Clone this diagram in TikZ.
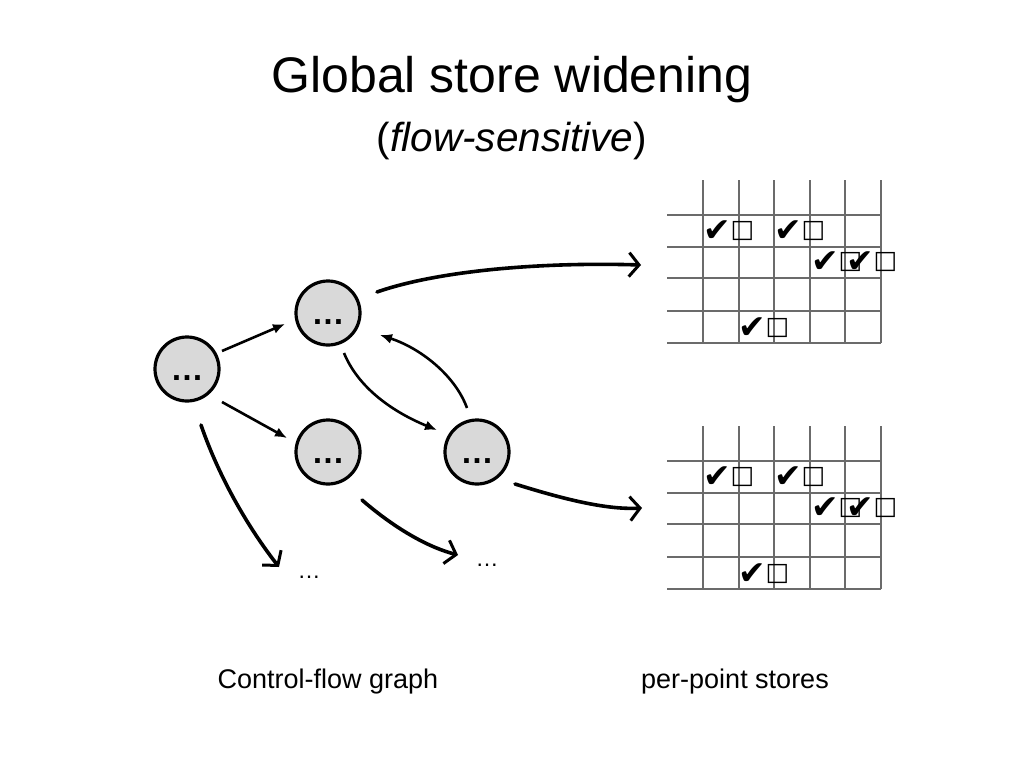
\documentclass[tikz,border=0pt]{standalone}
\usepackage{fontspec}
\setmainfont{Liberation Sans}
\newfontfamily\symfont{DejaVu Sans}
\usetikzlibrary{arrows.meta}
\begin{document}
\begin{tikzpicture}[x=1pt,y=-1pt,
  cfgnode/.style={circle, draw=black, line width=3.2pt, fill=black!15, minimum size=64pt, inner sep=0pt, text height=22pt, text depth=0pt, font=\fontsize{33}{36}\selectfont\bfseries},
  flow/.style={line width=2.6pt, -{Latex[length=12pt,width=10pt]}},
  sketch/.style={line width=3.6pt, line cap=round, -{Straight Barb[length=10pt,width=24pt,line width=3pt]}},
  gridline/.style={draw=black!58, line width=2.5pt},
  chk/.style={font=\symfont\fontsize{33}{33}\selectfont, inner sep=0pt},
  bx/.style={font=\symfont\fontsize{25}{25}\selectfont, inner sep=0pt},
  lbl/.style={font=\fontsize{27}{30}\selectfont, anchor=base},
  dots/.style={font=\fontsize{23}{26}\selectfont, anchor=base}
]
\useasboundingbox (0,0) rectangle (1024,768);

% title
\node[anchor=base, font=\fontsize{50}{58}\selectfont] (title) at (512,92) {Global store widening};
\node[anchor=base, font=\fontsize{40.5}{48}\selectfont] (subtitle) at (512,151) {(\textit{flow-sensitive})};

% grids
\foreach \gy in {0,246} {
  \foreach \x in {703,739,774,810,845,881}
    \draw[gridline] (\x,180+\gy) -- (\x,343+\gy);
  \foreach \y in {215,247,278,311,343}
    \draw[gridline] (667,\y+\gy) -- (881,\y+\gy);
}
\foreach \cx/\cy [count=\i] in {717/231, 788/231, 825/262, 860/262, 752/328, 717/477, 788/477, 825/508, 860/508, 752/574} {
  \node[chk] (k\i) at (\cx,\cy) {✔};
  \node[bx] (b\i) at (\cx+25.5,\cy) {□};
}

% nodes
\node[cfgnode] (n1) at (187,369) {…};
\node[cfgnode] (n2) at (328,313) {…};
\node[cfgnode] (n3) at (328,452) {…};
\node[cfgnode] (n4) at (477,452) {…};

\node[dots] (e1) at (309,578) {…};
\node[dots] (e2) at (487,566) {…};

% thin arrows
\draw[flow] ([shift={(35,-18)}]n1.center) -- ([shift={(-43,11)}]n2.center);
\draw[flow] ([shift={(35,33)}]n1.center) -- ([shift={(-41,-14)}]n3.center);
\draw[flow] ([shift={(16,40)}]n2.center) .. controls (360,392) and (400,415) .. ([shift={(-40,-22)}]n4.center);
\draw[flow] ([shift={(-10,-44)}]n4.center) .. controls (455,375) and (420,348) .. ([shift={(52,22)}]n2.center);

% sketchy arrows
\coordinate (st1) at (641,265);
\coordinate (st2) at (642,508);
\coordinate (d1) at (279,567);
\coordinate (d2) at (458,555);
\draw[sketch] ([shift={(49,-21)}]n2.center) .. controls (440,270) and (545,262) .. (st1);
\draw[sketch] ([shift={(38,32)}]n4.center) .. controls (560,498) and (605,510) .. (st2);
\draw[sketch] ([shift={(14,56)}]n1.center) .. controls (220,480) and (250,530) .. (d1);
\draw[sketch] ([shift={(34,48)}]n3.center) .. controls (385,520) and (420,545) .. (d2);

% labels
\node[lbl] (l1) at (328,688) {Control-flow graph};
\node[lbl] (l2) at (735,688) {per-point stores};
\end{tikzpicture}
\end{document}
